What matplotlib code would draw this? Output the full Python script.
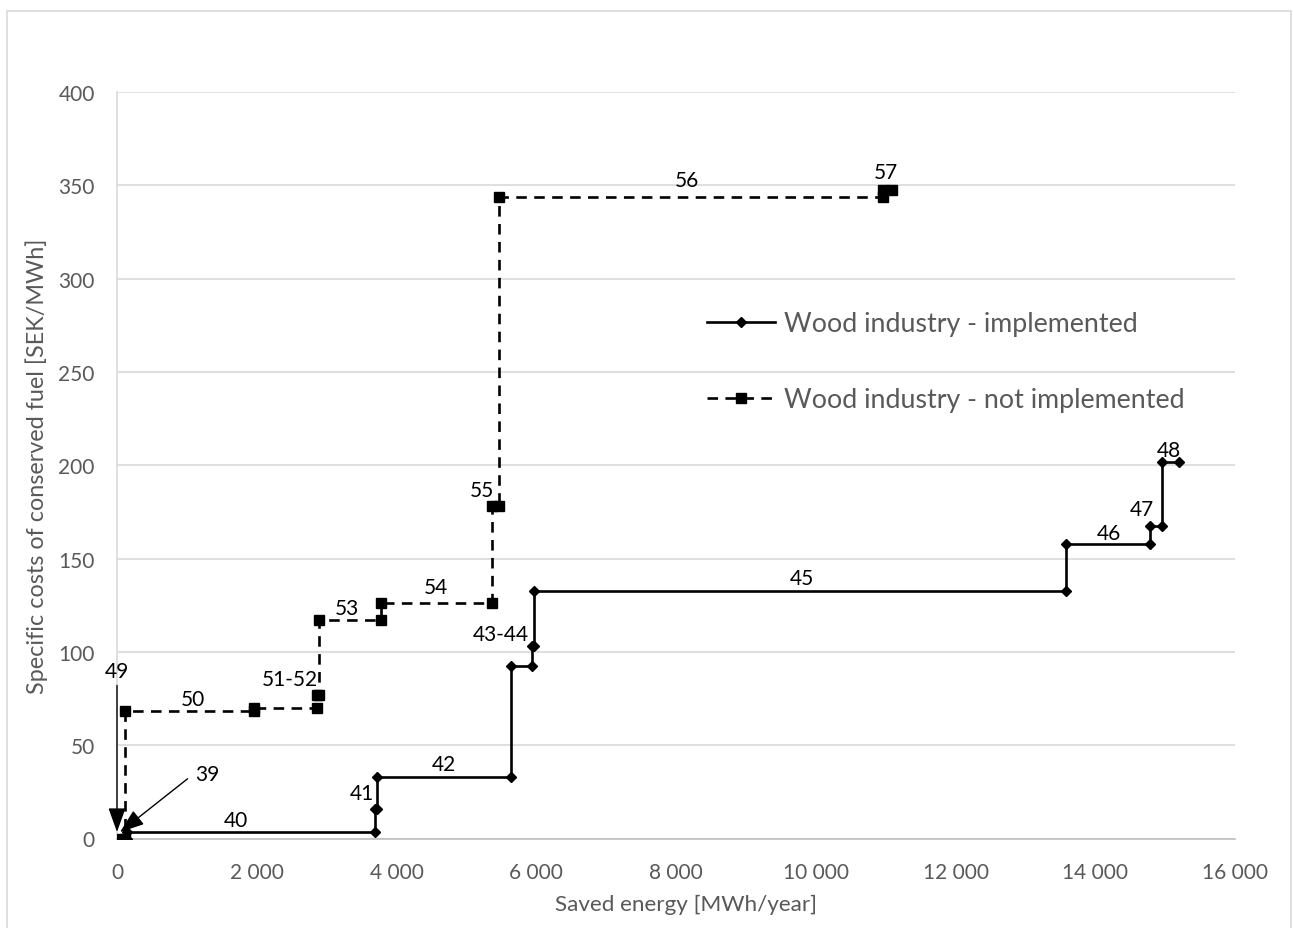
import matplotlib
matplotlib.use("Agg")
import matplotlib.pyplot as plt
from matplotlib.patches import Rectangle
from matplotlib.ticker import FuncFormatter

plt.rcParams['font.family'] = ['Lato', 'DejaVu Sans']

# ---- data: implemented measures (39-48) ----
impl_ids = ["39", "40", "41", "42", "43", "44", "45", "46", "47", "48"]
impl_start = [0, 139, 3692, 3717, 5634, 5939, 5972, 13581, 14779, 14951]
impl_end = [139, 3692, 3717, 5634, 5939, 5972, 13581, 14779, 14951, 15199]
impl_cost = [0, 3.6, 15.8, 33.1, 92.3, 103.0, 132.8, 157.6, 167.3, 201.6]

# ---- data: not implemented measures (49-57) ----
notimpl_ids = ["49", "50", "51", "52", "53", "54", "55", "56", "57"]
notimpl_start = [0, 119, 1960, 2867, 2898, 3774, 5371, 5463, 10958]
notimpl_end = [119, 1960, 2867, 2898, 3774, 5371, 5463, 10958, 11091]
notimpl_cost = [0, 68.5, 69.9, 76.9, 117.2, 126.0, 178.3, 343.6, 347.7]

# ---- labels on the chart ----
label_text = ["40", "41", "42", "43-44", "45", "46", "47", "48",
              "50", "51-52", "53", "54", "55", "56", "57"]
label_x = [1703, 3510, 4675, 5491, 9799, 14197, 14665, 15060,
           1092, 2476, 3296, 4565, 5228, 8153, 11001]
label_y = [10, 24.6, 39.8, 109.8, 139.4, 163.9, 176.3, 208.3,
           75, 85.7, 123.7, 134.8, 187, 352.7, 357]

x_ticks = [0, 2000, 4000, 6000, 8000, 10000, 12000, 14000, 16000]
y_ticks = [0, 50, 100, 150, 200, 250, 300, 350, 400]


def steps(starts, ends, costs):
    xs, ys = [], []
    for s, e, c in zip(starts, ends, costs):
        xs += [s, e]
        ys += [c, c]
    return xs, ys


W, H = 1293, 929
fig = plt.figure(figsize=(W / 100, H / 100), dpi=100)
ax = fig.add_axes([117 / W, 1 - 839.5 / H, (1235 - 117) / W, (839.5 - 93) / H])

grey_txt = '#595959'
grid_c = '#d9d9d9'

ix, iy = steps(impl_start, impl_end, impl_cost)
nx, ny = steps(notimpl_start, notimpl_end, notimpl_cost)

ax.plot(ix, iy, color='black', lw=1.9, marker='D', markersize=5.2,
        label='Wood industry - implemented', zorder=3)
ax.plot(nx, ny, color='black', lw=1.9, ls=(0, (4, 2.8)), marker='s',
        markersize=6.8, label='Wood industry - not implemented', zorder=4)

ax.set_xlim(0, 16000)
ax.set_ylim(0, 400)
ax.set_xticks(x_ticks)
ax.set_yticks(y_ticks)
ax.xaxis.set_major_formatter(FuncFormatter(lambda v, p: f"{int(v):,}".replace(",", " ")))
ax.tick_params(axis='both', length=0, labelsize=15, labelcolor=grey_txt)
ax.tick_params(axis='x', pad=17)
ax.tick_params(axis='y', pad=16)
ax.grid(axis='y', color=grid_c, lw=1.2)
ax.set_axisbelow(True)
for s in ['top', 'right']:
    ax.spines[s].set_visible(False)
ax.spines['left'].set_color(grid_c)
ax.spines['bottom'].set_color('#bfbfbf')
ax.spines['left'].set_linewidth(1.2)
ax.spines['bottom'].set_linewidth(1.2)

for t, x, y in zip(label_text, label_x, label_y):
    ax.text(x, y, t, fontsize=15, color='black', ha='center', va='center', zorder=6)

# annotation arrows for 49 and 39
ax.annotate('', xy=(0, 3.5), xytext=(0, 82),
            arrowprops=dict(arrowstyle='-|>,head_length=0.75,head_width=0.27',
                            mutation_scale=20, color='black', lw=1.0,
                            shrinkA=0, shrinkB=0), zorder=7)
ax.text(0, 90, "49", fontsize=15, color='black', ha='center', va='center')
ax.annotate('', xy=(43, 3.4), xytext=(1010, 32),
            arrowprops=dict(arrowstyle='-|>,head_length=0.75,head_width=0.27',
                            mutation_scale=20, color='black', lw=1.0,
                            shrinkA=0, shrinkB=0), zorder=7)
ax.text(1288, 34.8, "39", fontsize=15, color='black', ha='center', va='center')

leg = ax.legend(loc='center left', bbox_to_anchor=(706.7 / W, 1 - 362.7 / H),
                bbox_transform=fig.transFigure, frameon=False, fontsize=19.3,
                handlelength=2.55, handletextpad=0.35, labelspacing=1.9,
                borderpad=0, borderaxespad=0, numpoints=1)
for txt in leg.get_texts():
    txt.set_color(grey_txt)

fig.text(37 / W, 1 - 466 / H, "Specific costs of conserved fuel [SEK/MWh]",
         rotation=90, ha='center', va='center', fontsize=16.8, color=grey_txt)
fig.text(686 / W, 1 - 905 / H, "Saved energy [MWh/year]",
         ha='center', va='center', fontsize=16.2, color=grey_txt)

fig.patches.append(Rectangle((7 / W, -0.02), (1291 - 7) / W, 1 - 12 / H + 0.02,
                             transform=fig.transFigure, fill=False,
                             edgecolor=grid_c, lw=1.2))

fig.savefig("out.png", dpi=100)
